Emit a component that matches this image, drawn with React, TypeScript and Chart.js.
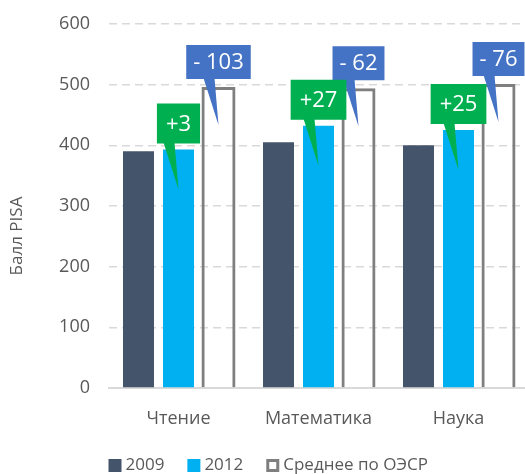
import React, { useEffect, useRef } from "react";
import { Chart, registerables } from "chart.js";

Chart.register(...registerables);

// ---- data ----
const categories = ["Чтение", "Математика", "Наука"];
const series2009 = [390, 405, 400];
const series2012 = [393, 432, 425];
const seriesOECD = [496, 494, 501];
const changeLabels = ["+3", "+27", "+25"];
const gapLabels = ["- 103", "- 62", "- 76"];
const legendLabels = ["2009", "2012", "Среднее по ОЭСР"];
const yMin = 0;
const yMax = 600;
const yStep = 100;
const axisTitle = "Балл PISA";

const FONT = "'Open Sans', 'Noto Sans', sans-serif";
const TEXT = "#595959";
const C2009 = "#44546A";
const C2012 = "#00B0F0";
const COECD = "#7F7F7F";
const GREEN = "#00B050";
const BLUE = "#4472C4";

const CANVAS_W = 545;
const CANVAS_H = 474;

function drawCallout(
  ctx: CanvasRenderingContext2D,
  tx: number,
  ty: number,
  text: string,
  color: string,
  h: number,
  gap: number,
  padX: number
) {
  const w = ctx.measureText(text).width + 2 * padX;
  const bottom = ty - gap;
  const top = bottom - h;
  const left = tx - w / 2;
  ctx.fillStyle = color;
  ctx.beginPath();
  ctx.rect(left, top, w, h);
  ctx.fill();
  ctx.beginPath();
  ctx.moveTo(tx - 15, bottom - 1);
  ctx.lineTo(tx - 4, bottom - 1);
  ctx.lineTo(tx, ty);
  ctx.closePath();
  ctx.fill();
  ctx.fillStyle = "#FFFFFF";
  ctx.fillText(text, tx, top + h / 2 + 1);
}

const calloutPlugin = {
  id: "callouts",
  afterDatasetsDraw(chart: any) {
    const ctx: CanvasRenderingContext2D = chart.ctx;
    const m2012 = chart.getDatasetMeta(1).data;
    const mOecd = chart.getDatasetMeta(2).data;
    ctx.save();
    ctx.font = `22px ${FONT}`;
    ctx.textAlign = "center";
    ctx.textBaseline = "middle";
    for (let i = 0; i < categories.length; i++) {
      const el = mOecd[i];
      drawCallout(ctx, el.x, el.y + 38, gapLabels[i], BLUE, 34, 46, 7);
    }
    for (let i = 0; i < categories.length; i++) {
      const el = m2012[i];
      drawCallout(ctx, el.x, el.y + 40, changeLabels[i], GREEN, 40, 46, 9);
    }
    ctx.restore();
  },
  afterDraw(chart: any) {
    const ctx: CanvasRenderingContext2D = chart.ctx;
    const area = chart.chartArea;
    ctx.save();
    // axis title
    ctx.fillStyle = TEXT;
    ctx.font = `17px ${FONT}`;
    ctx.textAlign = "center";
    ctx.textBaseline = "middle";
    ctx.translate(17.5, 236);
    ctx.rotate(-Math.PI / 2);
    ctx.fillText(axisTitle, 0, 0);
    ctx.restore();

    // legend
    ctx.save();
    ctx.font = `17px ${FONT}`;
    ctx.textBaseline = "middle";
    ctx.textAlign = "left";
    const cy = 465.5;
    let x = area.left;
    const colors = [C2009, C2012, COECD];
    legendLabels.forEach((lab, i) => {
      if (i === 2) {
        ctx.fillStyle = COECD;
        ctx.fillRect(x, cy - 6.5, 13, 13);
        ctx.fillStyle = "#FFFFFF";
        ctx.fillRect(x + 3, cy - 3.5, 7, 7);
      } else {
        ctx.fillStyle = colors[i];
        ctx.fillRect(x, cy - 6.5, 13, 13);
      }
      ctx.fillStyle = TEXT;
      ctx.fillText(lab, x + 17, cy);
      x += 17 + ctx.measureText(lab).width + 23;
    });
    ctx.restore();
  },
};

export default function App() {
  const ref = useRef<HTMLCanvasElement | null>(null);

  useEffect(() => {
    if (!ref.current) return;
    const chart = new Chart(ref.current, {
      type: "bar",
      data: {
        labels: categories,
        datasets: [
          {
            label: legendLabels[0],
            data: series2009,
            backgroundColor: C2009,
            borderWidth: 0,
            barPercentage: 0.775,
            categoryPercentage: 0.857,
          },
          {
            label: legendLabels[1],
            data: series2012,
            backgroundColor: C2012,
            borderWidth: 0,
            barPercentage: 0.775,
            categoryPercentage: 0.857,
          },
          {
            label: legendLabels[2],
            data: seriesOECD,
            backgroundColor: "rgba(0,0,0,0)",
            borderColor: COECD,
            borderWidth: 3,
            borderSkipped: "start",
            barPercentage: 0.85,
            categoryPercentage: 0.857,
          },
        ],
      },
      options: {
        animation: false,
        responsive: true,
        maintainAspectRatio: false,
        layout: {
          padding: { top: 0, right: CANVAS_W - 528.5, left: 0, bottom: 0 },
        },
        plugins: {
          legend: { display: false },
          tooltip: { enabled: false },
          title: { display: false },
        },
        scales: {
          x: {
            grid: { display: false },
            border: { display: true, color: "#D9D9D9", width: 2 },
            ticks: {
              color: TEXT,
              font: { family: FONT, size: 18 },
              padding: 12,
            },
            afterFit(s: any) {
              s.height = 86;
            },
          },
          y: {
            min: yMin,
            max: yMax,
            ticks: {
              stepSize: yStep,
              color: TEXT,
              font: { family: FONT, size: 18, lineHeight: 0.6 },
              padding: 18.5,
            },
            grid: {
              color: (c: any) =>
                c.tick && c.tick.value === 0 ? "rgba(0,0,0,0)" : "#D9D9D9",
              lineWidth: 1.5,
              drawTicks: false,
            },
            border: { display: false, dash: [8, 5] },
            afterFit(s: any) {
              s.width = 108.5;
            },
          },
        },
      },
      plugins: [calloutPlugin],
    });
    return () => chart.destroy();
  }, []);

  return (
    <div
      style={{
        position: "fixed",
        left: 0,
        top: 0,
        width: 525,
        height: CANVAS_H,
        overflow: "hidden",
        background: "#FFFFFF",
      }}
    >
      <div style={{ position: "relative", width: CANVAS_W, height: CANVAS_H }}>
        <canvas ref={ref} />
      </div>
    </div>
  );
}
